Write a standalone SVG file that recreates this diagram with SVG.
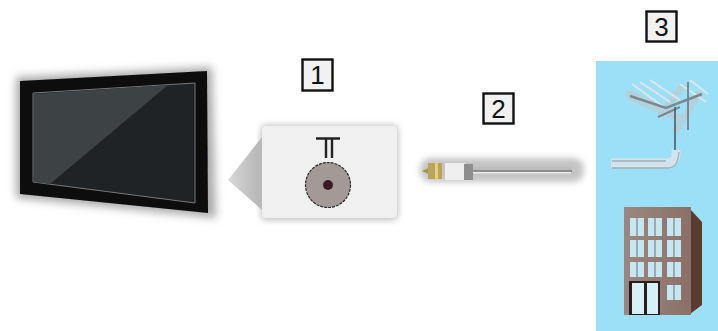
<svg xmlns="http://www.w3.org/2000/svg" width="718" height="331" viewBox="0 0 718 331">
<style>
.badge{fill:#f1f1f1;stroke:#111;stroke-width:2.4}
.num{font-family:"Liberation Sans",Arial,sans-serif;font-size:26px;fill:#111;text-anchor:middle}
.win{fill:#c6e6f0}
.bar{fill:none;stroke:#8f9aa5;stroke-width:1.6}
</style>
<defs>
<filter id="b1" x="-20%" y="-20%" width="140%" height="140%"><feGaussianBlur stdDeviation="0.7"/></filter>
<filter id="b4" x="-20%" y="-20%" width="140%" height="140%"><feGaussianBlur stdDeviation="4.5"/></filter>
<filter id="b3" x="-20%" y="-40%" width="140%" height="180%"><feGaussianBlur stdDeviation="3"/></filter>
<linearGradient id="cone" x1="0" x2="1" y1="0" y2="0"><stop offset="0" stop-color="#d8d8d8"/><stop offset="1" stop-color="#b4b4b4"/></linearGradient>
<linearGradient id="wall" x1="0" x2="1" y1="0" y2="0"><stop offset="0" stop-color="#9b8780"/><stop offset="1" stop-color="#8a7068"/></linearGradient>
</defs>
<g id="tv">
<polygon points="16,77 212,67 216,218 16,198" fill="#aaa" filter="url(#b4)"/>
<polygon points="20,81 207,71 208,213 20,194" fill="#0b0b0c" filter="url(#b1)"/>
<polygon points="33,93 195,83 195,203 33,182" fill="#1f2326" stroke="#77797a" stroke-width="1"/>
<polygon points="34,94 168,85 50,184 34,182" fill="#3e4245" filter="url(#b1)"/>
</g>
<g id="port">
<polygon points="228,180 262,137 262,210" fill="url(#cone)" filter="url(#b1)"/>
<rect x="261" y="125" width="137" height="95" rx="5" fill="#bdbdbd" filter="url(#b3)"/>
<rect x="262" y="126" width="135" height="92" rx="4" fill="#f0f0f0"/>
<path d="M316,138.500H328M326,138.500V158M340,138.500H328M332,138.500V158" fill="none" stroke="#222" stroke-width="2.400"/>
<circle cx="328" cy="185" r="22.500" fill="#a39a98" stroke="#2a2a2a" stroke-width="1.200" stroke-dasharray="3 1"/>
<circle cx="328" cy="185" r="5" fill="#3a1f25" filter="url(#b1)"/>
</g>
<g id="cable">
<rect x="420" y="158" width="164" height="24" rx="11" fill="#c4c4c4" filter="url(#b3)"/>
<rect x="470" y="167" width="102" height="7" fill="#bdbdbd"/>
<rect x="472" y="170" width="100" height="2" fill="#8d8d8d"/>
<rect x="471" y="172" width="100" height="1.500" fill="#ededed"/>
<polygon points="422,171 429,168 429,174" fill="#a98f42"/>
<rect x="428" y="163" width="14" height="16" fill="#b9a45c" filter="url(#b1)"/>
<rect x="435" y="162" width="3" height="18" fill="#e4d07e"/>
<rect x="445" y="163" width="20" height="17" fill="#efefef"/>
<rect x="464" y="164" width="9" height="16" fill="#8e8e8e"/>
</g>
<g id="source">
<rect x="596" y="61" width="122" height="270" fill="#9ce0f8"/>
<g id="antenna" filter="url(#b1)">
<path d="M629,97L680,118M626,92L660,108M684,84L660,116M700,92L675,132" fill="none" stroke="#bfc6cc" stroke-width="7" opacity="0.600"/>
<path d="M632,84L665,108M640,82L670,102M650,80L680,100M680,84L706,102M690,80L708,94" fill="none" stroke="#dfe6ea" stroke-width="2"/>
<path d="M630,96L666,108L702,94" fill="none" stroke="#7c8791" stroke-width="2.500"/>
<path d="M658,117L680,107M688,82V130" fill="none" stroke="#7c8791" stroke-width="2"/>
<path d="M675,107V150" fill="none" stroke="#4e5962" stroke-width="1.600"/>
<path d="M611,163H666Q676,163 676,153V150" fill="none" stroke="#dfe4ea" stroke-width="9" opacity="0.800"/>
<path d="M612,161H666M612,168H668Q678,168 679,152" fill="none" stroke="#a7adb3" stroke-width="1.300"/>
</g>
<g id="building" filter="url(#b1)">
<polygon points="690,209 702,222 702,305 690,314" fill="#5a3a2e"/>
<rect x="624" y="207" width="67" height="108" fill="url(#wall)"/>
<rect x="630" y="218" width="14" height="18" class="win"/><rect x="648" y="218" width="14" height="18" class="win"/><rect x="667" y="218" width="14" height="18" class="win"/>
<rect x="630" y="240" width="14" height="17" class="win"/><rect x="648" y="240" width="14" height="17" class="win"/><rect x="667" y="240" width="14" height="17" class="win"/>
<rect x="630" y="262" width="14" height="15" class="win"/><rect x="648" y="262" width="14" height="15" class="win"/><rect x="667" y="262" width="14" height="15" class="win"/>
<rect x="667" y="285" width="14" height="15" class="win"/>
<path d="M637,218V236M655,218V236M674,218V236M637,240V257M655,240V257M674,240V257M637,262V277M655,262V277M674,262V277M674,285V300" class="bar"/>
<rect x="629" y="281" width="31" height="34" fill="#2b1a1c"/>
<rect x="632" y="283" width="12" height="31" fill="#d6f1f5"/>
<rect x="647" y="283" width="11" height="31" fill="#d6f1f5"/>
</g>
</g>
<g id="badge1"><rect class="badge" x="302.500" y="59.500" width="30" height="31"/><text class="num" x="317.500" y="84">1</text></g>
<g id="badge2"><rect class="badge" x="483.500" y="93.500" width="30" height="30"/><text class="num" x="498.500" y="118">2</text></g>
<g id="badge3"><rect class="badge" x="646.500" y="11.500" width="30" height="30"/><text class="num" x="661.500" y="36">3</text></g>
</svg>
